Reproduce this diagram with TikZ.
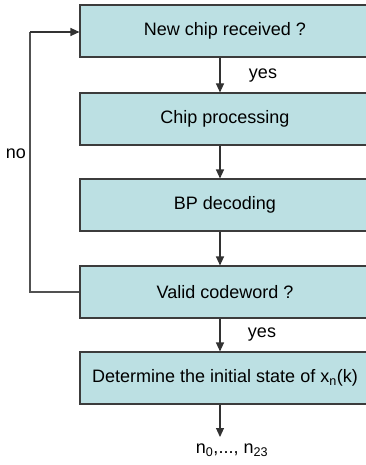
\documentclass[tikz,border=0pt]{standalone}
\usepackage{fontspec}
\setmainfont{Liberation Sans}
\usetikzlibrary{arrows.meta}
\definecolor{boxfill}{RGB}{188,224,227}
\definecolor{boxline}{RGB}{60,60,60}
\definecolor{wire}{RGB}{50,50,50}
\begin{document}
\begin{tikzpicture}[x=1pt,y=-1pt,
  stepbox/.style={draw=boxline,line width=1.1pt,fill=boxfill,minimum width=290pt,
    minimum height=52pt,inner sep=0pt,font=\fontsize{18}{20}\selectfont,anchor=center},
  arr/.style={draw=wire,line width=1.1pt,-{Triangle[length=9pt,width=8pt]}},
  lbl/.style={font=\fontsize{18}{20}\selectfont,inner sep=0pt}]
\useasboundingbox (0,0) rectangle (366,465);
\clip (0,0) rectangle (366,465);
% process steps
\node[stepbox] (b1) at (225,31) {New chip received ?};
\node[stepbox] (b2) at (225,119) {Chip processing};
\node[stepbox] (b3) at (225,205) {BP decoding};
\node[stepbox] (b4) at (225,292) {Valid codeword ?};
\node[stepbox] (b5) at (225,378) {Determine the initial state of x\textsubscript{n}(k)};
% forward flow
\draw[arr] ([xshift=-5pt]b1.south) -- ([xshift=-5pt]b2.north);
\draw[arr] ([xshift=-5pt]b2.south) -- ([xshift=-5pt]b3.north);
\draw[arr] ([xshift=-5pt]b3.south) -- ([xshift=-5pt]b4.north);
\draw[arr] ([xshift=-5pt]b4.south) -- ([xshift=-5pt]b5.north);
\coordinate (out) at (220,437);
\draw[arr] ([xshift=-5pt]b5.south) -- (out);
% loop back when the codeword is not valid
\coordinate (lb) at (30,292);
\coordinate (lt) at (30,32);
\draw[draw=wire!85,line width=1.1pt] (b4.west) -- (lb) -- (lt);
\draw[arr] (lt) -- (lt -| b1.west);
% labels
\node[lbl] (yes1) at (263,76) {yes};
\node[lbl] (yes2) at (262,335) {yes};
\node[lbl] (no) at (16,154) {no};
\node[lbl,anchor=north] (res) at (232,444) {n\textsubscript{0},..., n\textsubscript{23}};
\end{tikzpicture}
\end{document}
